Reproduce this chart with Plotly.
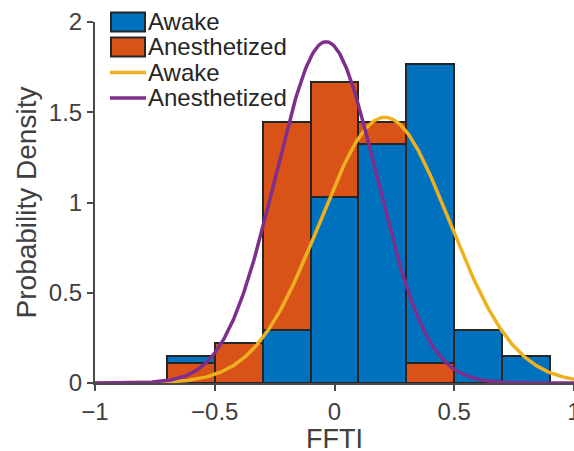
import numpy as np
import plotly.graph_objects as go

# Histogram bins (FFTI), width 0.2
bin_edges = [-0.7, -0.5, -0.3, -0.1, 0.1, 0.3, 0.5, 0.7, 0.9]
# Probability densities per bin
awake_density = [0.147, 0.0, 0.294, 1.029, 1.324, 1.765, 0.294, 0.147]
anest_density = [0.111, 0.222, 1.444, 1.667, 1.444, 0.111, 0.0, 0.0]

# Fitted normal distributions (mean, std)
awake_mu, awake_sigma = 0.21, 0.271
anest_mu, anest_sigma = -0.035, 0.211

x_ticks = [-1, -0.5, 0, 0.5, 1]
x_ticklabels = ["\u22121", "\u22120.5", "0", "0.5", "1"]
y_ticks = [0, 0.5, 1, 1.5, 2]
y_ticklabels = ["0", "0.5", "1", "1.5", "2"]

BLUE = "#0072BD"
ORANGE = "#D95319"
YELLOW = "#EDB120"
PURPLE = "#7E2F8E"
EDGE = "#262626"
AXIS = "#4a4a4a"
TEXT = "#404040"
FONT = "Liberation Sans, Arial, Helvetica, sans-serif"

W, H = 574, 451
ML, MR, MT, MB = 95, 0, 22, 68

centers = [(a + b) / 2 for a, b in zip(bin_edges[:-1], bin_edges[1:])]
widths = [b - a for a, b in zip(bin_edges[:-1], bin_edges[1:])]


def nz(v):
    return v if v > 0 else None


fig = go.Figure()

# Taller bar of each bin goes behind, shorter one in front
for front in (False, True):
    for name, dens, other, color in (
        ("Awake", awake_density, anest_density, BLUE),
        ("Anesthetized", anest_density, awake_density, ORANGE),
    ):
        ys = []
        for d, o in zip(dens, other):
            is_front = d < o
            ys.append(nz(d) if is_front == front else None)
        fig.add_trace(go.Bar(
            x=centers, y=ys, width=widths, name=name,
            marker=dict(color=color, line=dict(color=EDGE, width=2)),
            showlegend=False, hoverinfo="x+y",
        ))

xs = np.linspace(-1, 1, 400)


def normpdf(x, mu, s):
    return np.exp(-0.5 * ((x - mu) / s) ** 2) / (s * np.sqrt(2 * np.pi))


fig.add_trace(go.Scatter(x=xs, y=normpdf(xs, awake_mu, awake_sigma), mode="lines",
                         line=dict(color=YELLOW, width=3.5), name="Awake", showlegend=False))
fig.add_trace(go.Scatter(x=xs, y=normpdf(xs, anest_mu, anest_sigma), mode="lines",
                         line=dict(color=PURPLE, width=3.5), name="Anesthetized", showlegend=False))

# Legend and x-axis title placed in pixel positions converted to paper coordinates
pw, ph = W - ML - MR, H - MT - MB


def px(x):
    return (x - ML) / pw


def py(y):
    return (H - MB - y) / ph


shapes = []
annotations = []
legend_items = [
    ("patch", BLUE, "Awake", 12.5, 31.5),
    ("patch", ORANGE, "Anesthetized", 37.5, 56.5),
    ("line", YELLOW, "Awake", 72.5, 72.5),
    ("line", PURPLE, "Anesthetized", 98, 98),
]
for kind, color, label, y0, y1 in legend_items:
    if kind == "patch":
        shapes.append(dict(type="rect", xref="paper", yref="paper",
                           x0=px(111), x1=px(145), y0=py(y0), y1=py(y1),
                           fillcolor=color, line=dict(color=EDGE, width=2)))
    else:
        shapes.append(dict(type="line", xref="paper", yref="paper",
                           x0=px(110), x1=px(146), y0=py(y0), y1=py(y1),
                           line=dict(color=color, width=3.5)))
    annotations.append(dict(xref="paper", yref="paper", x=px(146), y=py((y0 + y1) / 2 - 0.5),
                            xanchor="left", yanchor="middle", text=label, showarrow=False,
                            font=dict(family=FONT, size=24, color=EDGE)))

annotations.append(dict(xref="paper", yref="paper", x=0.5, y=py(438.5),
                        xanchor="center", yanchor="middle", text="FFTI", showarrow=False,
                        font=dict(family=FONT, size=27, color=TEXT)))

fig.update_layout(
    width=W, height=H, autosize=False,
    margin=dict(l=ML, r=MR, t=MT, b=MB, pad=0),
    paper_bgcolor="white", plot_bgcolor="white",
    barmode="overlay", bargap=0,
    font=dict(family=FONT, size=24, color=TEXT),
    shapes=shapes, annotations=annotations,
    xaxis=dict(range=[-1, 1], tickvals=x_ticks, ticktext=x_ticklabels,
               showgrid=False, zeroline=False, showline=True, linecolor=AXIS, linewidth=2,
               ticks="outside", ticklen=6, tickwidth=2, tickcolor=AXIS,
               ticklabeloverflow="allow", automargin=False,
               tickfont=dict(size=24, color=TEXT)),
    yaxis=dict(range=[0, 2], tickvals=y_ticks, ticktext=y_ticklabels,
               showgrid=False, zeroline=False, showline=True, linecolor=AXIS, linewidth=2,
               ticks="outside", ticklen=6, tickwidth=2, tickcolor=AXIS,
               automargin=False,
               tickfont=dict(size=24, color=TEXT),
               title=dict(text="Probability Density", font=dict(size=28, color=TEXT), standoff=4)),
)

fig.write_html("out.html")
